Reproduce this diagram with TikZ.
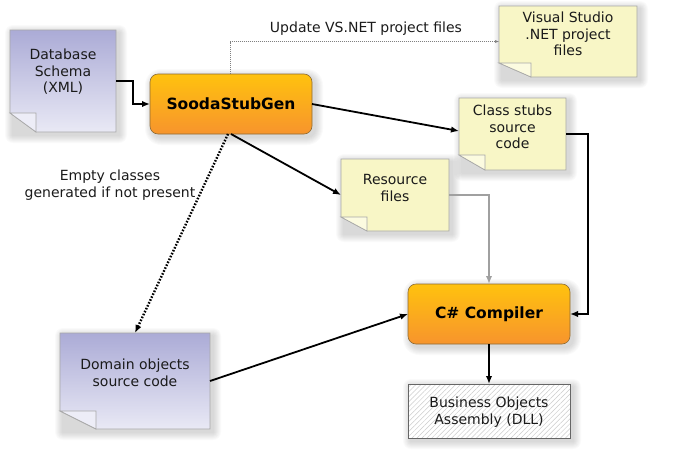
\documentclass[tikz,border=0pt]{standalone}
\usepackage{fontspec}
\setmainfont{DejaVu Sans}
\usetikzlibrary{arrows.meta,patterns.meta,calc}
\definecolor{orangeT}{HTML}{FFC20E}
\definecolor{orangeB}{HTML}{F7942D}
\definecolor{orangeD}{HTML}{8C6A35}
\definecolor{blueT}{HTML}{ABABD6}
\definecolor{blueB}{HTML}{E9E9F5}
\definecolor{blueL}{HTML}{EDEDF7}
\definecolor{yelF}{HTML}{F8F6C6}
\definecolor{yelL}{HTML}{FCFBE0}
\definecolor{noteD}{HTML}{A8A8A8}
\definecolor{greyArr}{HTML}{A0A0A0}
\definecolor{txtC}{HTML}{1A1A1A}

\tikzset{
  base/.style={rectangle, draw=none, inner sep=0pt, outer sep=0pt},
  txt/.style={align=center, font=\fontsize{14}{16.5}\selectfont, text=txtC, inner sep=0pt},
  btxt/.style={font=\fontsize{15.5}{18}\selectfont\bfseries, text=black, inner sep=0pt},
  arr/.style={-{Latex[length=8pt,width=6.5pt]}, line width=1.8pt, black},
  thickarr/.style={-{Latex[length=8pt,width=6.5pt]}, line width=2.3pt, black},
  greyline/.style={-{Latex[length=8pt,width=6.5pt]}, line width=2.3pt, greyArr},
  thindot/.style={-{Latex[length=4pt,width=3pt]}, line width=0.5pt, gray, dash pattern=on 1pt off 1pt},
  bigdot/.style={-{Latex[length=8pt,width=6.5pt]}, line width=2.4pt, black, dash pattern=on 1.6pt off 1.6pt},
  procbox/.style={rounded corners=8pt, top color=orangeT, bottom color=orangeB, draw=orangeD, line width=0.6pt},
}

\newcommand\softshadow[2]{%
  \foreach \d in {1,...,8}{%
    \fill[black, opacity=0.018, rounded corners={#2+\d pt}]
      ([xshift={3pt-\d pt}, yshift={-3pt+\d pt}]#1.north west) rectangle
      ([xshift={3pt+\d pt}, yshift={-3pt-\d pt}]#1.south east);}}

\newcommand\notedraw[6]{% node, fold w, fold h, top, bottom, fold colour
  \path[top color=#4, bottom color=#5, draw=noteD, line width=0.7pt]
    (#1.north west) -- (#1.north east) -- (#1.south east)
    -- ([xshift=#2]#1.south west) -- ([yshift=#3]#1.south west) -- cycle;
  \path[fill=#6, draw=noteD, line width=0.7pt]
    ([yshift=#3]#1.south west) -- ([xshift=#2, yshift=#3]#1.south west)
    -- ([xshift=#2]#1.south west) -- cycle;}

\begin{document}
\begin{tikzpicture}[x=1pt, y=-1pt]
\useasboundingbox (0,0) rectangle (674,464);

% invisible frames
\node[base, minimum width=106pt, minimum height=102pt] (db) at (63,81) {};
\node[base, minimum width=162pt, minimum height=60pt] (sooda) at (231,104) {};
\node[base, minimum width=138pt, minimum height=71pt] (vs) at (568,41.5) {};
\node[base, minimum width=107pt, minimum height=72pt] (cs) at (512.5,134) {};
\node[base, minimum width=108pt, minimum height=72pt] (rf) at (395,195) {};
\node[base, minimum width=150pt, minimum height=96pt] (dom) at (135,381) {};
\node[base, minimum width=162pt, minimum height=60pt] (cc) at (489,314) {};
\node[base, minimum width=162pt, minimum height=54pt] (bo) at (489,411) {};

% shadows
\softshadow{db}{0pt}
\softshadow{sooda}{8pt}
\softshadow{vs}{0pt}
\softshadow{cs}{0pt}
\softshadow{rf}{0pt}
\softshadow{dom}{0pt}
\softshadow{cc}{8pt}
\softshadow{bo}{0pt}

% shapes
\notedraw{db}{26pt}{19pt}{blueT}{blueB}{blueL}
\notedraw{dom}{36pt}{18pt}{blueT}{blueB}{blueL}
\notedraw{vs}{32pt}{14pt}{yelF}{yelF}{yelL}
\notedraw{cs}{26pt}{15pt}{yelF}{yelF}{yelL}
\notedraw{rf}{26pt}{14pt}{yelF}{yelF}{yelL}
\path[procbox] (sooda.north west) rectangle (sooda.south east);
\path[procbox] (cc.north west) rectangle (cc.south east);
\fill[white] (bo.north west) rectangle (bo.south east);
\path[pattern={Lines[angle=45, distance=3.5pt, line width=0.5pt]}, pattern color=black!20]
  (bo.north west) rectangle (bo.south east);
\draw[black!60, line width=0.8pt] (bo.north west) rectangle (bo.south east);

% texts
\node[txt] (dbt) at (63,72) {Database\\Schema\\(XML)};
\node[btxt] (soodat) at (sooda.center) {SoodaStubGen};
\node[txt] (vst) at (568,34) {Visual Studio\\.NET project\\files};
\node[txt] (cst) at (512.5,127) {Class stubs\\source\\code};
\node[txt] (rft) at (395,188) {Resource\\files};
\node[txt] (domt) at (135,373) {Domain objects\\source code};
\node[btxt] (cct) at (cc.center) {C\# Compiler};
\node[txt] (bot) at (489,412) {Business Objects\\Assembly (DLL)};
\node[txt] (upd) at (366,29) {Update VS.NET project files};
\node[txt] (empty) at (110,185) {Empty classes\\generated if not present};

% connectors
\draw[thickarr] (db.east) -- ++(17,0) |- (sooda.west);
\draw[thindot] ([xshift=-1pt]sooda.north) |- (vs.west);
\draw[arr] (sooda.east) -- ([yshift=3pt]cs.west);
\draw[arr] (sooda.south) -- (rf.west);
\draw[bigdot] ([xshift=-3pt]sooda.south) -- (dom.north);
\draw[greyline] (rf.east) -| (cc.north);
\draw[thickarr] (cs.east) -- ++(22,0) |- (cc.east);
\draw[arr] (dom.east) -- (cc.west);
\draw[thickarr] (cc.south) -- (bo.north);
\end{tikzpicture}
\end{document}
